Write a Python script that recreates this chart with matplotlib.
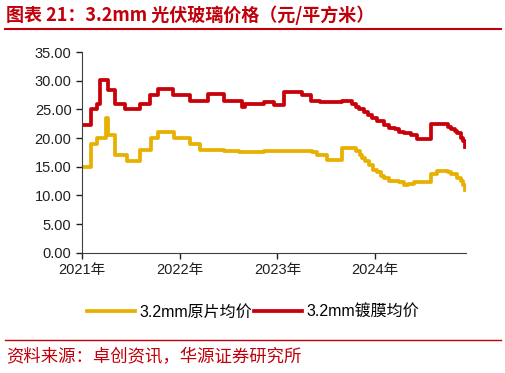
import matplotlib
matplotlib.use('Agg')
import matplotlib.pyplot as plt
import pandas as pd

plt.rcParams['font.family'] = ['Liberation Sans', 'Noto Sans CJK SC', 'DejaVu Sans']

# 3.2mm 原片均价 (元/平方米), step breakpoints
raw_dates = ['2021-01-01', '2021-01-22', '2021-02-03', '2021-02-25', '2021-03-24', '2021-03-31',
             '2021-04-09', '2021-05-04', '2021-06-18', '2021-08-05', '2021-09-15', '2021-10-11',
             '2021-12-10', '2022-02-08', '2022-03-16', '2022-06-17', '2022-08-12', '2022-11-13',
             '2023-05-11', '2023-05-30', '2023-07-06', '2023-08-31', '2023-10-14', '2023-10-22',
             '2023-11-05', '2023-11-13', '2023-11-25', '2023-12-09', '2023-12-25', '2024-01-09',
             '2024-01-22', '2024-02-04', '2024-02-22', '2024-03-31', '2024-04-18', '2024-05-04',
             '2024-05-25', '2024-07-28', '2024-08-20', '2024-09-30', '2024-10-10', '2024-10-25',
             '2024-11-02', '2024-11-17', '2024-11-25', '2024-12-01']
raw_values = [15.0, 15.0, 19.0, 20.0, 20.0, 23.5,
              20.5, 17.0, 16.0, 18.0, 20.0, 21.0,
              20.0, 19.0, 18.0, 17.8, 17.5, 17.8,
              17.5, 17.0, 16.2, 18.3, 18.3, 17.8,
              17.0, 16.5, 16.0, 15.3, 14.5, 14.0,
              13.3, 13.0, 12.5, 12.3, 11.8, 12.0,
              12.3, 13.8, 14.2, 14.0, 13.8, 13.8,
              13.0, 12.5, 11.8, 11.0]

# 3.2mm 镀膜均价 (元/平方米)
coated_dates = ['2021-01-01', '2021-01-22', '2021-02-03', '2021-02-25', '2021-03-08', '2021-04-07',
                '2021-05-04', '2021-06-10', '2021-08-05', '2021-09-11', '2021-10-11', '2021-12-06',
                '2022-02-08', '2022-04-15', '2022-06-17', '2022-08-22', '2022-09-03', '2022-11-13',
                '2022-12-20', '2023-01-27', '2023-04-04', '2023-05-08', '2023-06-10', '2023-08-31',
                '2023-10-07', '2023-10-22', '2023-11-02', '2023-11-20', '2023-12-05', '2023-12-20',
                '2024-01-09', '2024-02-04', '2024-02-22', '2024-03-15', '2024-03-31', '2024-04-18',
                '2024-05-14', '2024-06-05', '2024-07-28', '2024-09-30', '2024-10-10', '2024-10-25',
                '2024-11-02', '2024-11-17', '2024-11-25', '2024-12-01']
coated_values = [22.3, 22.3, 25.0, 26.0, 30.2, 28.3,
                 26.0, 25.0, 26.0, 27.5, 28.5, 27.5,
                 26.5, 27.7, 26.5, 25.5, 26.0, 26.2,
                 25.8, 28.0, 27.5, 26.5, 26.2, 26.5,
                 26.0, 25.5, 25.0, 24.5, 24.0, 23.5,
                 23.0, 22.3, 21.8, 21.5, 21.0, 20.8,
                 20.5, 19.8, 22.5, 22.0, 21.5, 21.3,
                 20.8, 20.0, 19.5, 18.5]

raw_dates = pd.to_datetime(raw_dates)
coated_dates = pd.to_datetime(coated_dates)

red = '#C0000B'
fig = plt.figure(figsize=(5.06, 3.73), dpi=100)
ax = fig.add_axes([0.162, 0.3225, 0.759, 0.538])

ax.plot(raw_dates, raw_values, drawstyle='steps-post', color='#E8B000', lw=2.7, label='3.2mm原片均价')
ax.plot(coated_dates, coated_values, drawstyle='steps-post', color='#C8000A', lw=2.7, label='3.2mm镀膜均价')

ax.set_ylim(0, 35)
ax.set_yticks(range(0, 36, 5))
ax.set_yticklabels([f'{v:.2f}' for v in range(0, 36, 5)])
ax.set_xlim(pd.Timestamp('2021-01-01'), pd.Timestamp('2024-12-05'))
years = pd.to_datetime(['2021-01-01', '2022-01-01', '2023-01-01', '2024-01-01'])
ax.set_xticks(years)
ax.set_xticklabels([f'{d.year}年' for d in years])
for s in ['top', 'right']:
    ax.spines[s].set_visible(False)
for s in ['left', 'bottom']:
    ax.spines[s].set_color('#404040')
ax.tick_params(labelsize=10.5, colors='#202020', length=4, width=1)

leg = fig.legend(loc='center', bbox_to_anchor=(0.5, 1 - 312 / 373), ncol=2, frameon=False,
                 fontsize=11.5, handlelength=3.0, handletextpad=0.3, columnspacing=0.1)

# title and source
fig.text(0.012, 1 - 15 / 373, '图表 21：3.2mm 光伏玻璃价格（元/平方米）', color=red,
         fontsize=13, fontweight='bold', va='center', family=['Noto Sans CJK SC', 'DejaVu Sans'])
fig.add_artist(plt.Line2D([0.01, 0.99], [1 - 29 / 373] * 2, color=red, lw=1.5))
fig.add_artist(plt.Line2D([0.01, 0.99], [1 - 340 / 373] * 2, color=red, lw=1.0))
fig.text(0.012, 1 - 357 / 373, '资料来源：卓创资讯，华源证券研究所', color=red,
         fontsize=12.5, va='center', family=['Noto Sans CJK SC', 'DejaVu Sans'])

fig.savefig('out.png', dpi=100)
